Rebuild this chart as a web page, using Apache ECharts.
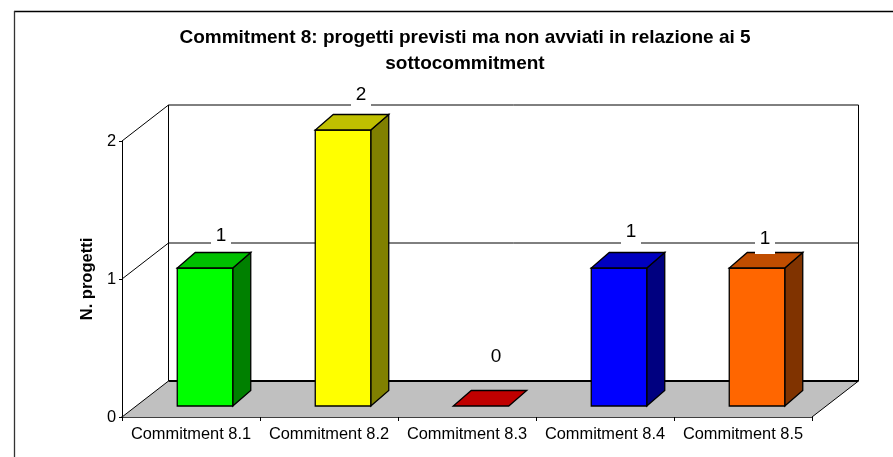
<!DOCTYPE html>
<html><head><meta charset="utf-8">
<style>html,body{margin:0;padding:0;background:#fff}#c{width:893px;height:457px}</style>
<script src="https://cdn.jsdelivr.net/npm/echarts@6/dist/echarts.min.js"></script>
</head><body><div id="c"></div>
<script>
const categories = ['Commitment 8.1','Commitment 8.2','Commitment 8.3','Commitment 8.4','Commitment 8.5'];
const values = [1,2,0,1,1];
const yTicks = [0,1,2];
const frontColors = ['#00FF00','#FFFF00','#FF0000','#0000FF','#FF6600'];
const topColors = ['#00C000','#C0C000','#C00000','#0000C0','#C04D00'];
const sideColors = ['#008000','#808000','#800000','#000080','#803300'];
const titleText = 'Commitment 8: progetti previsti ma non avviati in relazione ai 5\nsottocommitment';
const yName = 'N. progetti';

const FONT = '"Liberation Sans", Arial, sans-serif';
const DX = 46.5, DY = -36;           // depth of the 3D box
const BAR_W = 55.5;                  // front face width
const FRONT = [14, -11], BACK = [32, -26.5]; // bar front/back depth offset
const LABEL_OFF = [[30,-45],[32,-48],[29,-62],[26,-49],[22,-42]];

function bgItem(params, api){
  const band = api.size([1,0])[0];
  const o = api.coord([0,0]); const x0 = o[0]-band/2, y0 = o[1];
  const x1 = x0 + band*categories.length;
  const yTop = api.coord([0,2])[1];
  const line = (a,b,c,d,w)=>({type:'line',shape:{x1:a,y1:b,x2:c,y2:d},style:{stroke:'#000',lineWidth:w||1}});
  const ch = [
    {type:'polygon',shape:{points:[[x0,y0],[x1,y0],[x1+DX,y0+DY],[x0+DX,y0+DY]]},style:{fill:'#C0C0C0'}},
    line(x0+DX,y0+DY,x0+DX,yTop+DY),
    line(x1+DX,y0+DY,x1+DX,yTop+DY),
    line(x0+DX,y0+DY,x1+DX,y0+DY,2),
    line(x1,y0,x1+DX,y0+DY)
  ];
  yTicks.forEach(t=>{
    const y = api.coord([0,t])[1];
    ch.push(line(x0,y,x0+DX,y+DY));
    if(t>0) ch.push(line(x0+DX,y+DY,x1+DX,y+DY));
  });
  return {type:'group',children:ch};
}
function barItem(params, api){
  const i = api.value(0), v = api.value(1);
  const c = api.coord([i,v]), b = api.coord([i,0]);
  const L = c[0]+FRONT[0]-BAR_W/2, R = L+BAR_W;
  const T = c[1]+FRONT[1], B = b[1]+FRONT[1];
  const dx = BACK[0]-FRONT[0], dy = BACK[1]-FRONT[1];
  const s = {stroke:'#000',lineWidth:1.3,lineJoin:'miter'};
  const idx = params.dataIndex, ch=[];
  if(v>0){
    ch.push({type:'polygon',shape:{points:[[R,T],[R+dx,T+dy],[R+dx,B+dy],[R,B]]},style:{...s,fill:sideColors[idx]}});
    ch.push({type:'rect',shape:{x:L,y:T,width:BAR_W,height:B-T},style:{...s,fill:frontColors[idx]}});
  }
  ch.push({type:'polygon',shape:{points:[[L,T],[R,T],[R+dx,T+dy],[L+dx,T+dy]]},style:{...s,fill:topColors[idx]}});
  return {type:'group',children:ch};
}
function labelItem(params, api){
  const i = api.value(0), v = api.value(1), c = api.coord([i,v]);
  const off = LABEL_OFF[params.dataIndex];
  const x = c[0]+off[0], y = c[1]+off[1];
  return {type:'group',children:[
    {type:'rect',shape:{x:x-10,y:y-17,width:20,height:34},style:{fill:'#fff'}},
    {type:'text',style:{x:x,y:y+1.5,text:String(v),fill:'#000',font:'19px '+FONT,align:'center',verticalAlign:'middle'}}
  ]};
}
const chart = echarts.init(document.getElementById('c'),null,{renderer:'canvas'});
chart.setOption({
  animation:false,
  backgroundColor:'#fff',
  title:{text:titleText,left:460,top:20,textAlign:'center',
    textStyle:{fontFamily:FONT,fontSize:19,fontWeight:'bold',color:'#000',lineHeight:26}},
  grid:{left:122,top:141,width:690,height:276,containLabel:false},
  xAxis:{type:'category',data:categories,
    axisLine:{lineStyle:{color:'#000',width:1.5}},
    axisTick:{show:true,alignWithLabel:false,length:4,lineStyle:{color:'#000'}},
    axisLabel:{color:'#000',fontFamily:FONT,fontSize:16.4,margin:9,interval:0},splitLine:{show:false}},
  yAxis:{type:'value',min:0,max:2,interval:1,name:yName,nameLocation:'middle',nameGap:26,
    nameTextStyle:{fontFamily:FONT,fontSize:16.5,fontWeight:'bold',color:'#000'},
    axisLine:{show:true,lineStyle:{color:'#000'}},
    axisTick:{show:true,length:3,lineStyle:{color:'#000'}},
    axisLabel:{color:'#000',fontFamily:FONT,fontSize:16.4,margin:6,padding:[3,0,0,0]},splitLine:{show:false}},
  graphic:[
    {type:'line',shape:{x1:14,y1:11.5,x2:893,y2:11.5},style:{stroke:'#000',lineWidth:1.3}},
    {type:'line',shape:{x1:14.5,y1:11,x2:14.5,y2:457},style:{stroke:'#333',lineWidth:1.3}}
  ],
  series:[
    {type:'custom',coordinateSystem:'cartesian2d',z:1,silent:true,renderItem:bgItem,data:[[0,0]],encode:{x:0,y:1}},
    {type:'custom',coordinateSystem:'cartesian2d',z:2,silent:true,renderItem:barItem,data:values.map((v,i)=>[i,v]),encode:{x:0,y:1}},
    {type:'custom',coordinateSystem:'cartesian2d',z:3,silent:true,renderItem:labelItem,data:values.map((v,i)=>[i,v]),encode:{x:0,y:1}}
  ]
});
</script></body></html>
